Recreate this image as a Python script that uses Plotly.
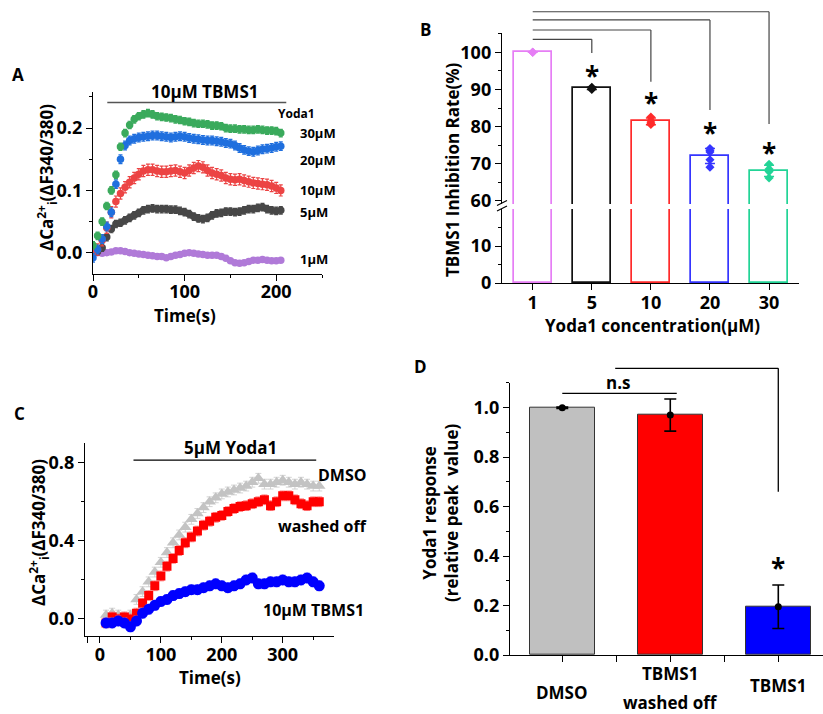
import plotly.graph_objects as go

W, H = 823, 714
FONT = "Open Sans, DejaVu Sans, sans-serif"

# ---------------- Panel A data ----------------
a_time = [0, 5, 10, 15, 20, 25, 30, 35, 40, 45, 50, 55, 60, 65, 70, 75, 80, 85, 90, 95, 100,
          105, 110, 115, 120, 125, 130, 135, 140, 145, 150, 155, 160, 165, 170, 175, 180, 185,
          190, 195, 200, 205]
a_30uM = [0.012, 0.027, 0.05, 0.075, 0.1, 0.125, 0.17, 0.192, 0.205, 0.214, 0.219, 0.222, 0.224,
          0.222, 0.219, 0.218, 0.217, 0.216, 0.214, 0.213, 0.211, 0.21, 0.208, 0.207, 0.207, 0.206,
          0.204, 0.204, 0.203, 0.2, 0.199, 0.199, 0.198, 0.198, 0.197, 0.197, 0.198, 0.197, 0.196,
          0.196, 0.195, 0.192]
a_20uM = [-0.008, 0.005, 0.022, 0.042, 0.065, 0.11, 0.15, 0.172, 0.18, 0.183, 0.185, 0.186, 0.187,
          0.188, 0.188, 0.187, 0.186, 0.185, 0.186, 0.187, 0.186, 0.184, 0.183, 0.182, 0.181, 0.18,
          0.18, 0.179, 0.178, 0.176, 0.175, 0.172, 0.168, 0.165, 0.163, 0.162, 0.164, 0.166, 0.167,
          0.168, 0.17, 0.171]
a_10uM = [0.0, 0.005, 0.02, 0.04, 0.065, 0.082, 0.095, 0.105, 0.113, 0.12, 0.126, 0.131, 0.133,
          0.133, 0.131, 0.13, 0.13, 0.131, 0.132, 0.13, 0.128, 0.132, 0.136, 0.139, 0.137, 0.132,
          0.128, 0.126, 0.124, 0.12, 0.118, 0.117, 0.118, 0.116, 0.114, 0.112, 0.111, 0.11, 0.109,
          0.107, 0.104, 0.1]
a_5uM = [0.0, 0.002, 0.008, 0.025, 0.038, 0.046, 0.048, 0.052, 0.056, 0.06, 0.064, 0.068, 0.07,
         0.071, 0.07, 0.07, 0.07, 0.069, 0.069, 0.067, 0.065, 0.062, 0.058, 0.055, 0.054, 0.056,
         0.06, 0.063, 0.064, 0.066, 0.066, 0.065, 0.066, 0.068, 0.07, 0.07, 0.072, 0.073, 0.07,
         0.068, 0.067, 0.068]
a_1uM = [0.002, 0.0, -0.001, 0.0, 0.001, 0.003, 0.003, 0.002, 0.0, -0.001, -0.002, -0.003, -0.004,
         -0.005, -0.006, -0.006, -0.008, -0.006, -0.004, -0.003, -0.001, 0.0, -0.001, -0.002,
         -0.003, -0.004, -0.004, -0.004, -0.006, -0.009, -0.013, -0.016, -0.017, -0.016, -0.014,
         -0.012, -0.012, -0.011, -0.012, -0.013, -0.013, -0.012]
a_labels = ["1μM", "5μM", "10μM", "20μM", "30μM"]

# ---------------- Panel B data ----------------
b_conc = ["1", "5", "10", "20", "30"]
b_mean = [100, 90.3, 81.4, 72.1, 68.1]
b_sd = [0.0, 0.3, 0.9, 2.0, 1.5]
b_points = [
    [100, 100, 100],
    [90.6, 90.4, 90.2, 90.0],
    [82.6, 81.6, 81.0, 80.6],
    [74.1, 73.6, 73.2, 71.1, 69.1],
    [69.9, 68.6, 67.9, 66.2],
]

# ---------------- Panel C data ----------------
c_time = [10, 20, 30, 40, 50, 60, 70, 80, 90, 100, 110, 120, 130, 140, 150, 160, 170, 180, 190,
          200, 210, 220, 230, 240, 250, 260, 270, 280, 290, 300, 310, 320, 330, 340, 350, 360]
c_dmso = [0.02, 0.03, 0.02, 0.01, 0.02, 0.1, 0.14, 0.19, 0.24, 0.29, 0.34, 0.39, 0.43, 0.47, 0.51,
          0.54, 0.57, 0.6, 0.62, 0.64, 0.65, 0.66, 0.67, 0.68, 0.7, 0.72, 0.69, 0.69, 0.7, 0.71,
          0.7, 0.69, 0.7, 0.69, 0.68, 0.68]
c_washed = [-0.02, 0.01, 0.0, 0.01, 0.0, 0.03, 0.08, 0.12, 0.17, 0.22, 0.27, 0.31, 0.35, 0.39,
            0.42, 0.45, 0.48, 0.5, 0.52, 0.53, 0.55, 0.565, 0.575, 0.58, 0.59, 0.6, 0.61, 0.58,
            0.6, 0.63, 0.63, 0.61, 0.59, 0.58, 0.6, 0.6]
c_tbms1 = [-0.02, -0.02, -0.01, -0.02, -0.04, -0.01, 0.03, 0.05, 0.07, 0.09, 0.1, 0.12, 0.13, 0.14,
           0.15, 0.15, 0.16, 0.17, 0.18, 0.17, 0.16, 0.17, 0.18, 0.2, 0.21, 0.18, 0.18, 0.19,
           0.19, 0.2, 0.19, 0.19, 0.2, 0.21, 0.19, 0.17]

# ---------------- Panel D data ----------------
d_groups = ["DMSO", "TBMS1 washed off", "TBMS1"]
d_mean = [1.0, 0.97, 0.195]
d_err = [0.003, 0.065, 0.088]

# ---------------- geometry helpers ----------------
def PX(p):
    return p / W

def PY(p):
    return 1 - p / H

def dom_x(a, b):
    return [PX(a), PX(b)]

def dom_y(top, bottom):
    return [PY(bottom), PY(top)]

A_X, A_Y = dom_x(93, 322), dom_y(91.7, 274)
B_X, B_YL, B_YU = dom_x(502, 799), dom_y(209, 283), dom_y(33, 204)
C_X, C_Y = dom_x(85, 334), dom_y(443.3, 635.7)
D_X, D_Y = dom_x(510, 823), dom_y(382.7, 655)

A_XR, A_YR = [0, 250], [-0.0342, 0.2584]
B_XR, B_YLR, B_YUR = [-0.52, 4.507], [0, 20.0], [59.19, 105.19]
C_XR, C_YR = [-24.6, 384.2], [-0.0855, 0.899]
D_XR, D_YR = [-0.484, 2.414], [0, 1.101]

def to_paper(v, rng, dom):
    return dom[0] + (v - rng[0]) / (rng[1] - rng[0]) * (dom[1] - dom[0])

fig = go.Figure()

# ---------------- Panel A traces ----------------
a_series = [(a_1uM, "#b07ad8", 0.002), (a_5uM, "#474747", 0.006), (a_10uM, "#ec4444", 0.009),
            (a_20uM, "#1f6fde", 0.007), (a_30uM, "#3aaa5c", 0.006)]
for (vals, col, err), lab in zip(a_series, a_labels):
    fig.add_trace(go.Scatter(
        x=a_time, y=vals, mode="markers", name=lab, xaxis="x", yaxis="y",
        marker=dict(symbol="circle", size=7.5, color=col),
        error_y=dict(type="constant", value=err, color=col, thickness=1.2, width=2),
        showlegend=False))

# ---------------- Panel B traces ----------------
b_cols = ["#e67ef5", "#111111", "#ff2a2a", "#3535ff", "#22d496"]
b_idx = list(range(len(b_conc)))
for ya in ["y2", "y3"]:
    fig.add_trace(go.Bar(
        x=b_idx, y=b_mean, xaxis="x2", yaxis=ya, width=0.64,
        marker=dict(color="rgba(255,255,255,0)", line=dict(color=b_cols, width=1.7)),
        showlegend=False))
for i in b_idx:
    fig.add_trace(go.Scatter(
        x=[i] * len(b_points[i]), y=b_points[i], mode="markers", xaxis="x2", yaxis="y3",
        marker=dict(symbol="diamond", size=7, color=b_cols[i]), showlegend=False))
    fig.add_trace(go.Scatter(
        x=[i], y=[b_mean[i]], mode="markers", xaxis="x2", yaxis="y3",
        marker=dict(size=1, color="rgba(0,0,0,0)"),
        error_y=dict(type="data", array=[b_sd[i]], color=b_cols[i], thickness=1.5, width=5),
        showlegend=False))

# ---------------- Panel C traces ----------------
c_series = [(c_dmso, "#c3c3c3", "triangle-up", 11, "#c8c8c8"),
            (c_washed, "#ff0000", "square", 9, "#ff7070"),
            (c_tbms1, "#0000ff", "circle", 11, "#8080ff")]
for vals, col, sym, sz, ecol in c_series:
    fig.add_trace(go.Scatter(
        x=c_time, y=vals, mode="markers", xaxis="x3", yaxis="y4",
        marker=dict(symbol=sym, size=sz, color=col),
        error_y=dict(type="constant", value=0.025, color=ecol, thickness=0.8, width=3),
        showlegend=False))

# ---------------- Panel D traces ----------------
d_idx = list(range(len(d_groups)))
fig.add_trace(go.Bar(
    x=d_idx, y=d_mean, xaxis="x4", yaxis="y5", width=0.6,
    marker=dict(color=["#c0c0c0", "#ff0000", "#0000ff"], line=dict(color="#333333", width=1)),
    showlegend=False))
fig.add_trace(go.Scatter(
    x=d_idx, y=d_mean, mode="markers", xaxis="x4", yaxis="y5",
    marker=dict(size=7, color="black"),
    error_y=dict(type="data", array=d_err, color="black", thickness=1.6, width=6),
    showlegend=False))

# ---------------- axes ----------------
tickf = dict(family=FONT, size=18, color="black", weight="bold")
base = dict(showline=True, linecolor="black", linewidth=1.4, ticks="outside", ticklen=6,
            tickwidth=1.4, tickcolor="black", showgrid=False, zeroline=False, tickfont=tickf,
            automargin=False)
minor = lambda d: dict(dtick=d, ticks="outside", ticklen=3, tickwidth=1.2, tickcolor="black",
                       showgrid=False)

layout = dict(
    width=W, height=H, margin=dict(l=0, r=0, t=0, b=0, autoexpand=False),
    paper_bgcolor="white", plot_bgcolor="rgba(0,0,0,0)",
    font=dict(family=FONT, color="black"),
    bargap=0,
    xaxis=dict(base, domain=A_X, range=A_XR, anchor="y", dtick=100, tick0=0, minor=minor(50),
               ticklabelstandoff=-5),
    yaxis=dict(base, domain=A_Y, range=A_YR, anchor="x", dtick=0.1, tick0=0, tickformat=".1f",
               minor=minor(0.05)),
    xaxis2=dict(base, domain=B_X, range=B_XR, anchor="y2", tickvals=b_idx, ticktext=b_conc,
                ticklabelstandoff=-3),
    yaxis2=dict(base, domain=B_YL, range=B_YLR, anchor="x2", tickvals=[0, 10],
                minor=dict(minor(5), tickvals=[5, 15])),
    yaxis3=dict(base, domain=B_YU, range=B_YUR, anchor="x2", tickvals=[60, 70, 80, 90, 100],
                minor=dict(minor(5), tickvals=[65, 75, 85, 95, 105])),
    xaxis3=dict(base, domain=C_X, range=C_XR, anchor="y4", tickvals=[-20, 0, 100, 200, 300],
                ticktext=["", "0", "100", "200", "300"], minor=minor(50), ticklabelstandoff=-4),
    yaxis4=dict(base, domain=C_Y, range=C_YR, anchor="x3", dtick=0.4, tick0=0, tickformat=".1f",
                minor=minor(0.2)),
    xaxis4=dict(base, domain=D_X, range=D_XR, anchor="y5", tickvals=[0, 0.5, 1, 1.5, 2],
                ticktext=["", "", "", "", ""]),
    yaxis5=dict(base, domain=D_Y, range=D_YR, anchor="x4", dtick=0.2, tick0=0, tickformat=".1f",
                minor=minor(0.1)),
)
fig.update_layout(**layout)

ann = []
shapes = []

def text(x, y, s, size=17, bold=True, angle=0, xanchor="center", yanchor="middle"):
    ann.append(dict(x=PX(x), y=PY(y), xref="paper", yref="paper", text=s, showarrow=False,
                    textangle=angle, xanchor=xanchor, yanchor=yanchor,
                    font=dict(family=FONT, size=size, color="black",
                              weight="bold" if bold else "normal")))

def star(xp, yp):
    ann.append(dict(x=xp, y=yp - 8 / H, xref="paper", yref="paper", text="*", showarrow=False,
                    xanchor="center", yanchor="middle",
                    font=dict(family=FONT, size=26, color="black", weight="bold")))

def pline(x0, y0, x1, y1, color="black", width=1.4):
    shapes.append(dict(type="line", xref="paper", yref="paper", x0=x0, y0=y0, x1=x1, y1=y1,
                       line=dict(color=color, width=width)))

# panel letters
text(18, 75, "A", 17)
text(425, 30, "B", 17)
text(19, 413, "C", 17)
text(420, 367, "D", 17)

# ---- Panel A annotations
text(205, 92, "10μM TBMS1", 17)
pline(to_paper(15.6, A_XR, A_X), to_paper(0.241, A_YR, A_Y),
      to_paper(211, A_XR, A_X), to_paper(0.241, A_YR, A_Y), color="#555555", width=1.6)
text(296, 114, "Yoda1", 12)
for lab, yy in zip(["30μM", "20μM", "10μM", "5μM", "1μM"], [133, 160, 190, 212, 259]):
    text(298, yy, lab, 13, xanchor="left")
text(46, 178, "ΔCa<sup>2+</sup><sub>i</sub>(ΔF340/380)", 17, angle=-90)
text(185, 315, "Time(s)", 17)

# ---- Panel B annotations
text(452, 170, "TBMS1 Inhibition Rate(%)", 17, angle=-90)
text(652, 326, "Yoda1 concentration(μM)", 17)
bx0 = to_paper(0, B_XR, B_X)
levels = [(1, 103.5, 99.8, 95.8), (2, 106.0, 92.1, 88.5), (3, 108.7, 84.5, 80.4),
          (4, 110.9, 80.7, 75.1)]
for i, top, bot, st in levels:
    xi = to_paper(i, B_XR, B_X)
    yt = to_paper(top, B_YUR, B_YU)
    yb = to_paper(bot, B_YUR, B_YU)
    pline(bx0, yt, xi, yt, color="#444444", width=1.2)
    pline(xi, yt, xi, yb, color="#444444", width=1.2)
    star(xi, to_paper(st, B_YUR, B_YU))
# axis break marks
for yy in [203, 208.5]:
    pline(PX(497), PY(yy + 2.5), PX(507), PY(yy - 2.5), color="black", width=1.2)

# ---- Panel C annotations
text(230, 447, "5μM Yoda1", 17)
pline(to_paper(55, C_XR, C_X), to_paper(0.813, C_YR, C_Y),
      to_paper(355, C_XR, C_X), to_paper(0.813, C_YR, C_Y), color="black", width=1.4)
text(342, 475, "DMSO", 16)
text(322, 526, "washed off", 16)
text(313, 610, "10μM TBMS1", 16)
text(38, 533, "ΔCa<sup>2+</sup><sub>i</sub>(ΔF340/380)", 17, angle=-90)
text(210, 677, "Time(s)", 17)

# ---- Panel D annotations
text(440, 513, "Yoda1 response<br>(relative peak  value)", 17, angle=-90)
text(562, 692, "DMSO", 17)
text(670, 673, "TBMS1", 17)
text(670, 702, "washed off", 17)
text(778, 685, "TBMS1", 17)
dx = lambda v: to_paper(v, D_XR, D_X)
dy = lambda v: to_paper(v, D_YR, D_Y)
pline(dx(0), dy(1.058), dx(1.06), dy(1.058), width=1.3)
text(618, 382, "n.s", 17)
pline(dx(0.49), dy(1.159), dx(2.0), dy(1.159), width=1.3)
pline(dx(2.0), dy(1.159), dx(2.0), dy(0.66), width=1.3)
star(dx(2.0), dy(0.384))

fig.update_layout(annotations=ann, shapes=shapes)
fig.write_html("out.html", config={"displayModeBar": False},
               post_script="document.body.style.margin='0px';document.body.style.overflow='hidden';")
